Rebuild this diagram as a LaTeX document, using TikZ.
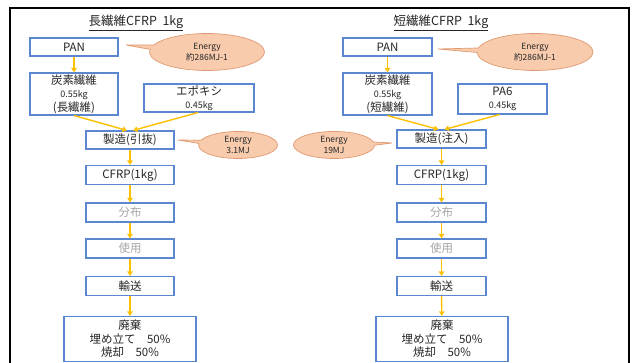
\documentclass[tikz,border=0pt]{standalone}
\usepackage{fontspec}
\setmainfont{Noto Sans CJK JP}
\usetikzlibrary{shapes.callouts,arrows.meta,calc}
\definecolor{boxblue}{HTML}{5B86D0}
\definecolor{flowc}{HTML}{FFC000}
\definecolor{calloutf}{HTML}{F8CBAD}
\definecolor{calloutb}{HTML}{E09A72}
\definecolor{txt}{HTML}{262626}
\definecolor{graytxt}{HTML}{A6A6A6}
\tikzset{
  box/.style={draw=boxblue, line width=1.1pt, fill=white, minimum height=18pt, inner sep=0pt,
    font=\fontsize{11.5}{13.5}\selectfont, text=txt, align=center},
  flow/.style={draw=flowc, line width=1.4pt, -{Triangle[width=5.5pt,length=4.5pt]}},
  bubble/.style={ellipse callout, draw=calloutb, fill=calloutf, line width=0.7pt, inner sep=0pt,
    font=\fontsize{8.5}{11}\selectfont, text=txt, align=center, callout pointer arc=14},
  title/.style={font=\fontsize{12.5}{14}\selectfont, text=txt},
}
\newcommand{\sm}[1]{{\fontsize{9}{13.5}\selectfont #1}}
\begin{document}
\begin{tikzpicture}[x=1pt,y=-1pt]
\useasboundingbox (0,0) rectangle (633,363);
\clip (0,0) rectangle (633,363);
\fill[white] (0,0) rectangle (633,363);
\draw[line width=1.5pt, black] (10,8) rectangle (629,380);

% ---------- left ----------
\node[title] (tl) at (136,23) {\underline{長繊維CFRP\ \ 1kg}};
\node[box, minimum width=88pt] (pan1) at (74,47) {PAN};
\node[box, minimum width=88pt, minimum height=42pt] (cf1) at (74,94) {炭素繊維\\\sm{0.55kg}\\(長繊維)};
\node[box, minimum width=110pt, minimum height=28pt] (ep) at (199,98) {エポキシ\\\sm{0.45kg}};
\node[box, minimum width=88pt] (mf1) at (130,140) {製造(引抜)};
\node[box, minimum width=88pt, minimum height=19pt] (cfrp1) at (130,175) {CFRP(1kg)};
\node[box, minimum width=88pt, minimum height=19pt, text=graytxt] (dist1) at (130,212.5) {分布};
\node[box, minimum width=88pt, minimum height=19pt, text=graytxt] (use1) at (130,248.5) {使用};
\node[box, minimum width=88pt, minimum height=19pt] (tr1) at (130,286) {輸送};
\node[box, minimum width=132pt, minimum height=45pt] (ds1) at (130,339) {廃棄\\埋め立て　50\%\\焼却　50\%};

\coordinate (p1) at (126,45);
\node[bubble, minimum width=115pt, minimum height=37pt, callout absolute pointer={(p1)}] (e1) at (207,52) {Energy\\約286MJ-1};
\coordinate (p2) at (178,140);
\node[bubble, minimum width=79pt, minimum height=27pt, callout absolute pointer={(p2)}] (e2) at (238,145) {Energy\\3.1MJ};

\draw[flow] (pan1) -- (cf1);
\draw[flow] (cf1.south) -- ([xshift=-3pt]mf1.north);
\draw[flow] ([xshift=-1pt]ep.south) -- ([xshift=3pt]mf1.north);
\draw[flow] (mf1) -- (cfrp1);
\draw[flow] (cfrp1) -- (dist1);
\draw[flow] (dist1) -- (use1);
\draw[flow] (use1) -- (tr1);
\draw[flow] (tr1) -- (ds1);

% ---------- right ----------
\node[title] (tr) at (441,23) {\underline{短繊維CFRP\ \ 1kg}};
\node[box, minimum width=89pt] (pan2) at (387.5,47) {PAN};
\node[box, minimum width=89pt, minimum height=42pt] (cf2) at (387.5,94) {炭素繊維\\\sm{0.55kg}\\(短繊維)};
\node[box, minimum width=89pt, minimum height=30pt] (pa) at (502.5,99) {PA6\\\sm{0.45kg}};
\node[box, minimum width=89pt] (mf2) at (441.5,139) {製造(注入)};
\node[box, minimum width=89pt, minimum height=19pt] (cfrp2) at (441.5,175) {CFRP(1kg)};
\node[box, minimum width=89pt, minimum height=19pt, text=graytxt] (dist2) at (441.5,212.5) {分布};
\node[box, minimum width=89pt, minimum height=19pt, text=graytxt] (use2) at (441.5,248.5) {使用};
\node[box, minimum width=89pt, minimum height=19pt] (tr2) at (441.5,286) {輸送};
\node[box, minimum width=132pt, minimum height=45pt] (ds2) at (442,339) {廃棄\\埋め立て　50\%\\焼却　50\%};

\coordinate (p3) at (438,49);
\node[bubble, minimum width=116pt, minimum height=37pt, callout absolute pointer={(p3)}] (e3) at (535,52) {Energy\\約286MJ-1};
\coordinate (p4) at (392,143);
\node[bubble, minimum width=81pt, minimum height=27pt, callout absolute pointer={(p4)}] (e4) at (334,145) {Energy\\19MJ};

\draw[flow] (pan2) -- (cf2);
\draw[flow] (cf2.south) -- ([xshift=-3pt]mf2.north);
\draw[flow] ([xshift=-3pt]pa.south) -- ([xshift=3pt]mf2.north);
\draw[flow] (mf2) -- (cfrp2);
\draw[flow] (cfrp2) -- (dist2);
\draw[flow] (dist2) -- (use2);
\draw[flow] (use2) -- (tr2);
\draw[flow] (tr2) -- (ds2);
\end{tikzpicture}
\end{document}
